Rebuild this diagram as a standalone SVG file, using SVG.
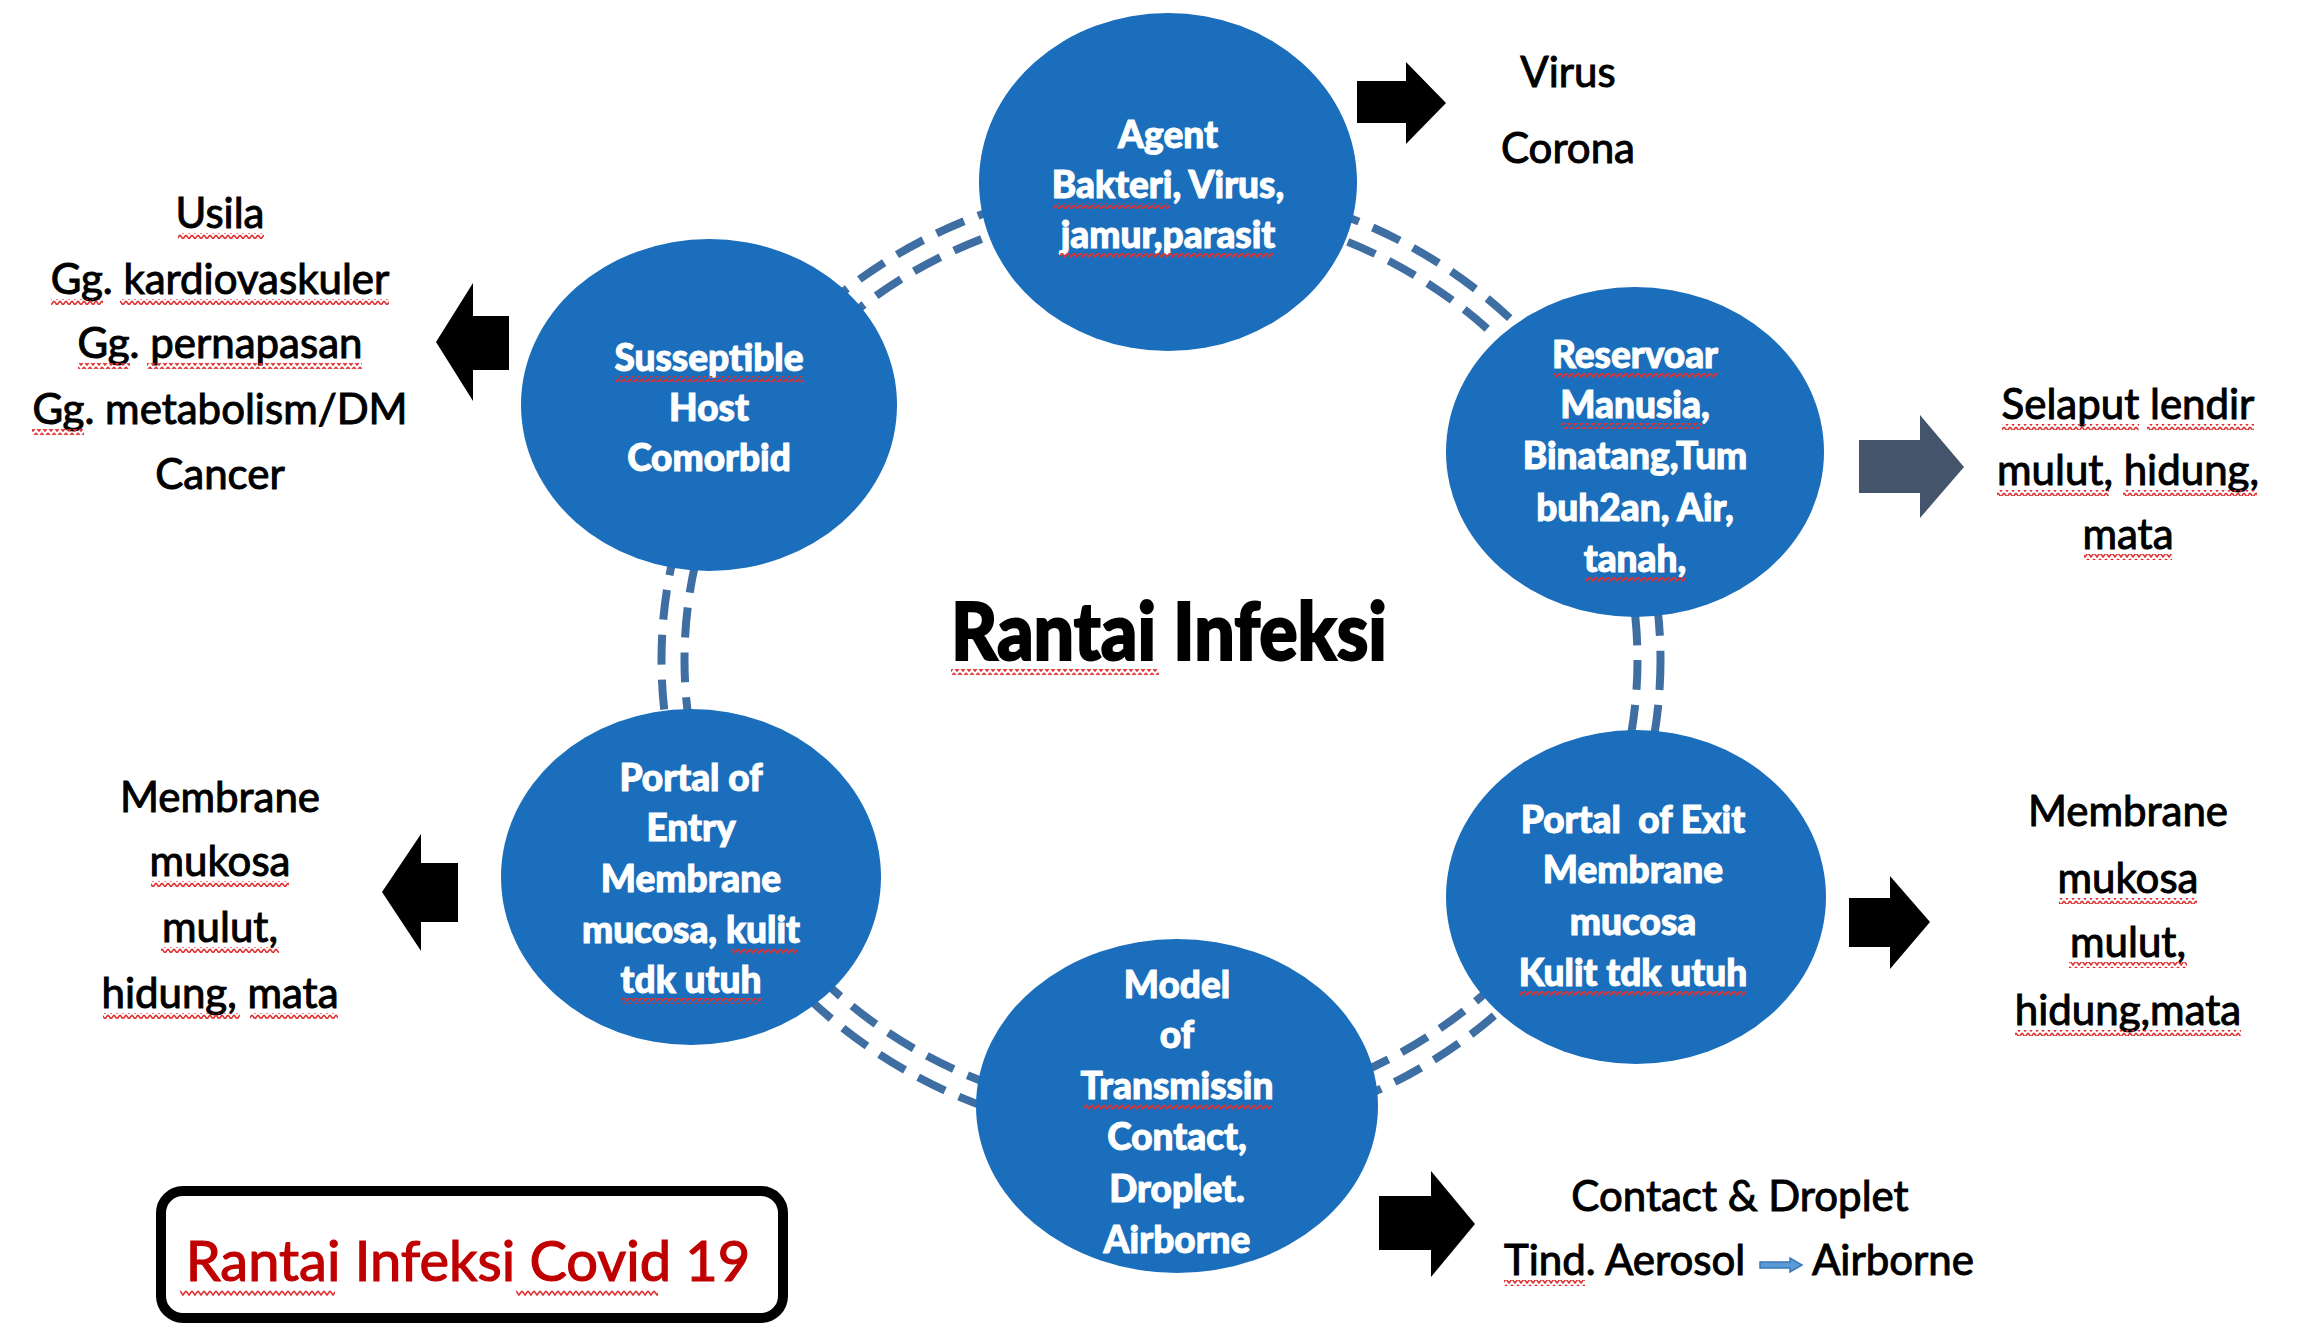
<svg xmlns="http://www.w3.org/2000/svg" width="2301" height="1328" viewBox="0 0 2301 1328">
<style>
.node{fill:#1b6ebb}
.nt{font-family:Lato,"Open Sans",sans-serif;font-weight:900;font-size:37px;fill:#fff;stroke:#fff;stroke-width:1;text-anchor:middle}
.bt{font-family:Lato,"Liberation Sans",sans-serif;font-size:42px;fill:#000;stroke:#000;stroke-width:1}
.mid{text-anchor:middle}
.arr{fill:#000}
.link{fill:none;stroke:#3f6ea3;stroke-width:8;stroke-dasharray:30 15}
.sq{fill:url(#squig)}
</style>
<defs>
<pattern id="squig" patternUnits="userSpaceOnUse" width="6" height="6">
<polyline points="0,1 3,5 6,1" fill="none" stroke="#e03030" stroke-width="1.6"/>
</pattern>
</defs>
<rect width="2301" height="1328" fill="#fff"/>
<g id="connectors">
<ellipse class="link" cx="1161" cy="660" rx="476.5" ry="454.5"/>
<ellipse class="link" cx="1161" cy="660" rx="499.5" ry="477.5"/>
</g>
<g id="node-agent">
<ellipse class="node" cx="1168" cy="182" rx="189" ry="169"/>
<text class="nt"><tspan x="1168" y="148">Agent</tspan><tspan x="1168" y="198">Bakteri, Virus,</tspan><tspan x="1168" y="248">jamur,parasit</tspan></text>
<rect class="sq" x="1054" y="203" width="116" height="6"/>
<rect class="sq" x="1060" y="253" width="214" height="6"/>
</g>
<g id="node-host">
<ellipse class="node" cx="709" cy="405" rx="188" ry="166"/>
<text class="nt"><tspan x="709" y="371">Susseptible</tspan><tspan x="709" y="421">Host</tspan><tspan x="709" y="471">Comorbid</tspan></text>
<rect class="sq" x="615" y="376" width="188" height="6"/>
</g>
<g id="node-reservoar">
<ellipse class="node" cx="1635" cy="452" rx="189" ry="165"/>
<text class="nt"><tspan x="1635" y="368">Reservoar</tspan><tspan x="1635" y="418">Manusia,</tspan><tspan x="1635" y="469">Binatang,Tum</tspan><tspan x="1635" y="521">buh2an, Air,</tspan><tspan x="1635" y="572">tanah,</tspan></text>
<rect class="sq" x="1553" y="373" width="164" height="6"/>
<rect class="sq" x="1561" y="423" width="141" height="6"/>
<rect class="sq" x="1585" y="577" width="100" height="6"/>
</g>
<g id="node-entry">
<ellipse class="node" cx="691" cy="877" rx="190" ry="168"/>
<text class="nt"><tspan x="691" y="791">Portal of</tspan><tspan x="691" y="841">Entry</tspan><tspan x="691" y="892">Membrane</tspan><tspan x="691" y="943">mucosa, kulit</tspan><tspan x="691" y="993">tdk utuh</tspan></text>
<rect class="sq" x="731" y="948" width="66" height="6"/>
<rect class="sq" x="622" y="998" width="140" height="6"/>
</g>
<g id="node-exit">
<ellipse class="node" cx="1636" cy="897" rx="190" ry="167"/>
<text class="nt"><tspan x="1633" y="833" xml:space="preserve">Portal  of Exit</tspan><tspan x="1633" y="883">Membrane</tspan><tspan x="1633" y="935">mucosa</tspan><tspan x="1633" y="986">Kulit tdk utuh</tspan></text>
<rect class="sq" x="1520" y="991" width="226" height="6"/>
</g>
<g id="node-transmission">
<ellipse class="node" cx="1177" cy="1106" rx="201" ry="167"/>
<text class="nt"><tspan x="1177" y="998">Model</tspan><tspan x="1177" y="1048">of</tspan><tspan x="1177" y="1099">Transmissin</tspan><tspan x="1177" y="1150">Contact,</tspan><tspan x="1177" y="1202">Droplet.</tspan><tspan x="1177" y="1253">Airborne</tspan></text>
<rect class="sq" x="1083" y="1104" width="189" height="6"/>
</g>
<g id="title">
<text x="1169" y="660" font-family="Lato,sans-serif" font-weight="900" font-size="80" stroke="#000" stroke-width="2" text-anchor="middle" textLength="436" lengthAdjust="spacingAndGlyphs">Rantai Infeksi</text>
<rect class="sq" x="951" y="669" width="208" height="6"/>
</g>
<g id="arrows">
<polygon class="arr" points="1357,81 1406,81 1406,62 1446,103 1406,144 1406,123 1357,123"/>
<polygon class="arr" points="509,316 473,316 473,283 436,342 473,401 473,370 509,370"/>
<polygon fill="#44546a" points="1859,440 1920,440 1920,415 1964,467 1920,518 1920,493 1859,493"/>
<polygon class="arr" points="458,863 421,863 421,834 382,892 421,951 421,922 458,922"/>
<polygon class="arr" points="1849,898 1890,898 1890,876 1930,922 1890,969 1890,947 1849,947"/>
<polygon class="arr" points="1379,1196 1431,1196 1431,1171 1475,1224 1431,1277 1431,1250 1379,1250"/>
</g>
<g id="label-agent">
<text class="bt mid" font-size="49"><tspan x="1568" y="87">Virus</tspan><tspan x="1568" y="163">Corona</tspan></text>
</g>
<g id="label-host">
<text class="bt mid"><tspan x="220" y="228">Usila</tspan><tspan x="220" y="294">Gg. kardiovaskuler</tspan><tspan x="220" y="358">Gg. pernapasan</tspan><tspan x="220" y="424">Gg. metabolism/DM</tspan><tspan x="220" y="489">Cancer</tspan></text>
<rect class="sq" x="178" y="233" width="86" height="6"/>
<rect class="sq" x="51" y="299" width="52" height="6"/>
<rect class="sq" x="120" y="299" width="269" height="6"/>
<rect class="sq" x="78" y="363" width="52" height="6"/>
<rect class="sq" x="147" y="363" width="215" height="6"/>
<rect class="sq" x="32" y="429" width="52" height="6"/>
</g>
<g id="label-reservoar">
<text class="bt mid"><tspan x="2128" y="419">Selaput lendir</tspan><tspan x="2128" y="485">mulut, hidung,</tspan><tspan x="2128" y="549">mata</tspan></text>
<rect class="sq" x="2002" y="424" width="137" height="6"/>
<rect class="sq" x="2147" y="424" width="107" height="6"/>
<rect class="sq" x="1997" y="490" width="112" height="6"/>
<rect class="sq" x="2123" y="490" width="134" height="6"/>
<rect class="sq" x="2084" y="554" width="88" height="6"/>
</g>
<g id="label-entry">
<text class="bt mid"><tspan x="220" y="812">Membrane</tspan><tspan x="220" y="876">mukosa</tspan><tspan x="220" y="942">mulut,</tspan><tspan x="220" y="1008">hidung, mata</tspan></text>
<rect class="sq" x="151" y="881" width="138" height="6"/>
<rect class="sq" x="161" y="947" width="118" height="6"/>
<rect class="sq" x="103" y="1013" width="137" height="6"/>
<rect class="sq" x="250" y="1013" width="88" height="6"/>
</g>
<g id="label-exit">
<text class="bt mid"><tspan x="2128" y="826">Membrane</tspan><tspan x="2128" y="893">mukosa</tspan><tspan x="2128" y="957">mulut,</tspan><tspan x="2128" y="1025">hidung,mata</tspan></text>
<rect class="sq" x="2059" y="898" width="138" height="6"/>
<rect class="sq" x="2069" y="962" width="118" height="6"/>
<rect class="sq" x="2015" y="1030" width="226" height="6"/>
</g>
<g id="label-transmission">
<text class="bt mid" x="1740" y="1211">Contact &amp; Droplet</text>
<text class="bt" x="1504" y="1275">Tind. Aerosol</text>
<polygon fill="#5b9bd5" stroke="#3a78b8" stroke-width="1.5" points="1760,1262 1790,1262 1790,1258 1802,1265 1790,1272 1790,1268 1760,1268"/>
<text class="bt" x="1812" y="1275">Airborne</text>
<rect class="sq" x="1504" y="1280" width="81" height="6"/>
</g>
<g id="caption">
<rect x="161" y="1191" width="622" height="127" rx="22" fill="#fff" stroke="#000" stroke-width="10"/>
<text x="468" y="1281" font-family="Lato,sans-serif" font-size="56" fill="#c00000" stroke="#c00000" stroke-width="1.2" text-anchor="middle">Rantai Infeksi Covid 19</text>
<rect class="sq" x="180" y="1290" width="155" height="6"/>
<rect class="sq" x="516" y="1290" width="142" height="6"/>
</g>
</svg>
